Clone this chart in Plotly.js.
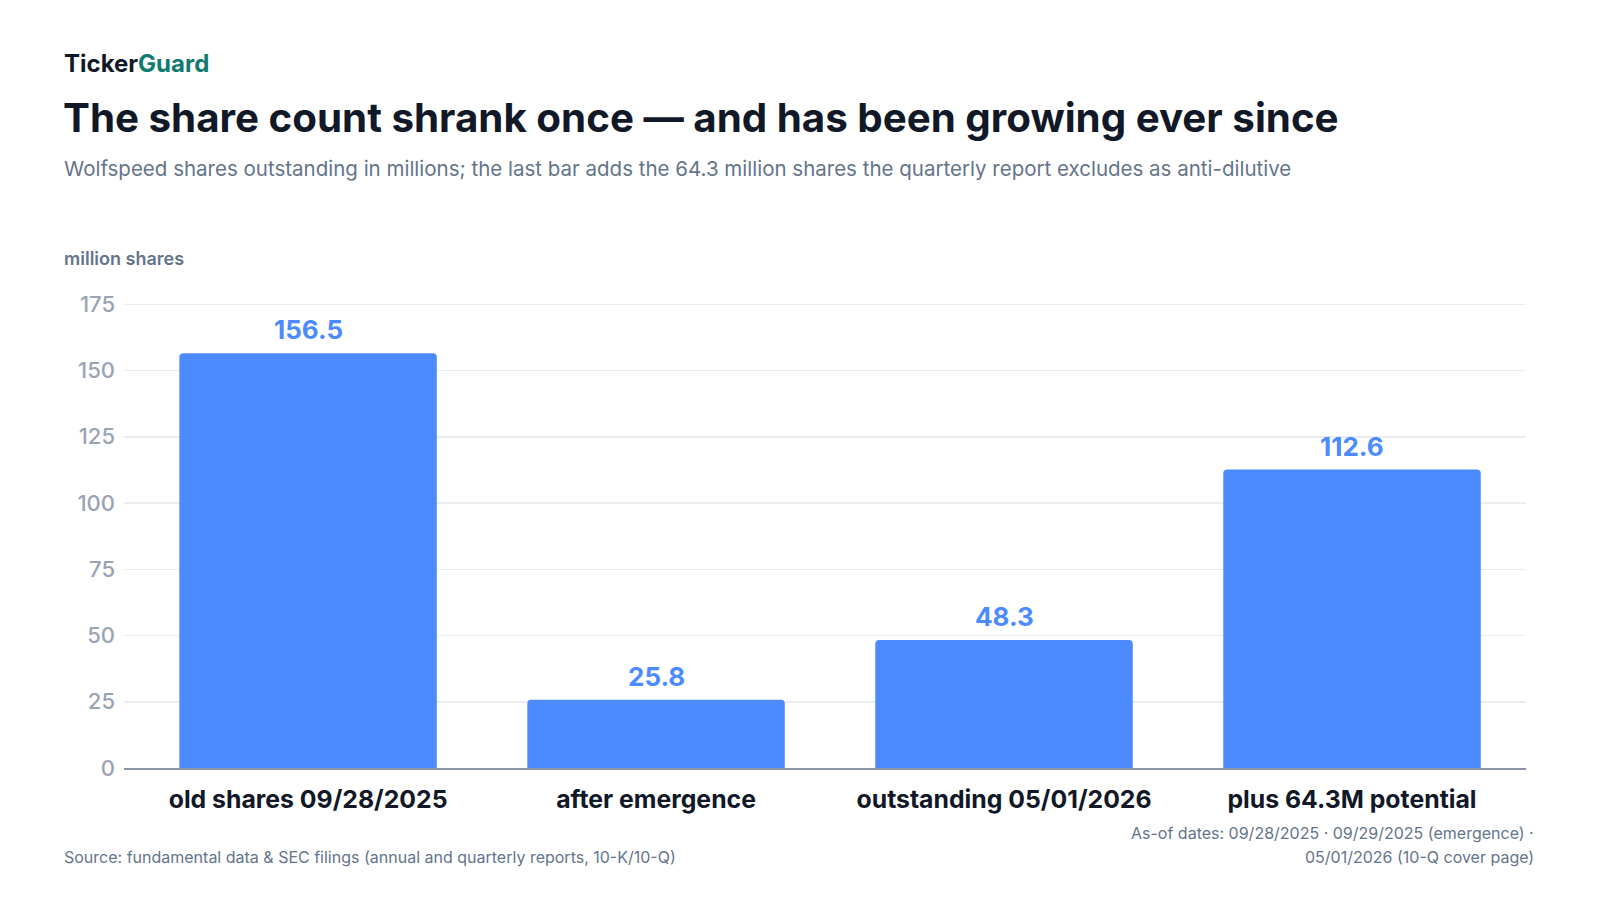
<!DOCTYPE html>
<html>
<head>
<meta charset="utf-8">
<script src="https://cdn.plot.ly/plotly-3.0.1.min.js"></script>
<style>
html,body{margin:0;padding:0;background:#fff;}
#chart{width:1600px;height:900px;}
</style>
</head>
<body>
<div id="chart"></div>
<script>
const categories = ["old shares 09/28/2025", "after emergence", "outstanding 05/01/2026", "plus 64.3M potential"];
const sharesMillions = [156.5, 25.8, 48.3, 112.6];
const valueLabels = ["156.5", "25.8", "48.3", "112.6"];
const yTicks = [0, 25, 50, 75, 100, 125, 150, 175];

const FONT = "Inter, 'Noto Sans', sans-serif";
const BLUE = "#4B8BFF";

// plot area geometry (pixels)
const L = 124, R = 1526, T = 291, B = 768;
const W = R - L, H = B - T;
const px = v => (v - L) / W;
const py = v => (B - v) / H;

const trace = {
  type: "bar",
  x: categories,
  y: sharesMillions,
  marker: {color: BLUE, cornerradius: 4},
  hoverinfo: "skip"
};

const valueAnnotations = categories.map((c, i) => ({
  x: c, y: sharesMillions[i], xref: "x", yref: "y",
  text: "<b>" + valueLabels[i] + "</b>",
  showarrow: false, xanchor: "center", yanchor: "bottom", yshift: 6,
  font: {family: FONT, size: 26, color: BLUE}
}));

const textAnnotations = [
  {x: px(62), y: py(63), xanchor: "left", yanchor: "middle",
   text: "<b>Ticker<span style='color:#0f7b6c'>Guard</span></b>",
   font: {family: FONT, size: 24, color: "#111827"}},
  {x: px(61), y: py(117), xanchor: "left", yanchor: "middle",
   text: "<b>The share count shrank once — and has been growing ever since</b>",
   font: {family: FONT, size: 40.3, color: "#111827"}},
  {x: px(62), y: py(168), xanchor: "left", yanchor: "middle",
   text: "Wolfspeed shares outstanding in millions; the last bar adds the 64.3 million shares the quarterly report excludes as anti-dilutive",
   font: {family: FONT, size: 20.5, color: "#64748b"}},
  {x: px(62), y: py(258), xanchor: "left", yanchor: "middle",
   text: "<span style='font-weight:600'>million shares</span>",
   font: {family: FONT, size: 18, color: "#64748b"}},
  {x: px(62), y: py(857), xanchor: "left", yanchor: "middle",
   text: "Source: fundamental data &amp; SEC filings (annual and quarterly reports, 10-K/10-Q)",
   font: {family: FONT, size: 16, color: "#64748b"}},
  {x: px(1536), y: py(833), xanchor: "right", yanchor: "middle",
   text: "As-of dates: 09/28/2025 · 09/29/2025 (emergence) ·",
   font: {family: FONT, size: 16, color: "#64748b"}},
  {x: px(1536), y: py(857), xanchor: "right", yanchor: "middle",
   text: "05/01/2026 (10-Q cover page)",
   font: {family: FONT, size: 16, color: "#64748b"}}
].map(a => Object.assign({xref: "paper", yref: "paper", showarrow: false}, a));

const layout = {
  width: 1600,
  height: 900,
  paper_bgcolor: "#ffffff",
  plot_bgcolor: "#ffffff",
  margin: {l: L, r: 1600 - R, t: T, b: 900 - B},
  bargap: 0.26,
  showlegend: false,
  font: {family: FONT},
  xaxis: {
    type: "category",
    range: [-0.529, 3.5],
    tickfont: {family: FONT, size: 24.8, color: "#111827", weight: 700},
    showgrid: false,
    showline: true,
    linecolor: "#8a94a6",
    linewidth: 2,
    ticks: "",
    ticklabelstandoff: 8,
    zeroline: false,
    fixedrange: true
  },
  yaxis: {
    range: [0, 180],
    tickvals: yTicks,
    ticktext: yTicks.map(String),
    tickfont: {family: FONT, size: 22, color: "#9aa3b5", weight: 500},
    gridcolor: "#eaecf0",
    gridwidth: 1.5,
    zeroline: false,
    showline: false,
    ticks: "",
    ticklabelstandoff: 8,
    fixedrange: true
  },
  annotations: valueAnnotations.concat(textAnnotations)
};

Plotly.newPlot("chart", [trace], layout, {displayModeBar: false, staticPlot: true});
</script>
</body>
</html>
